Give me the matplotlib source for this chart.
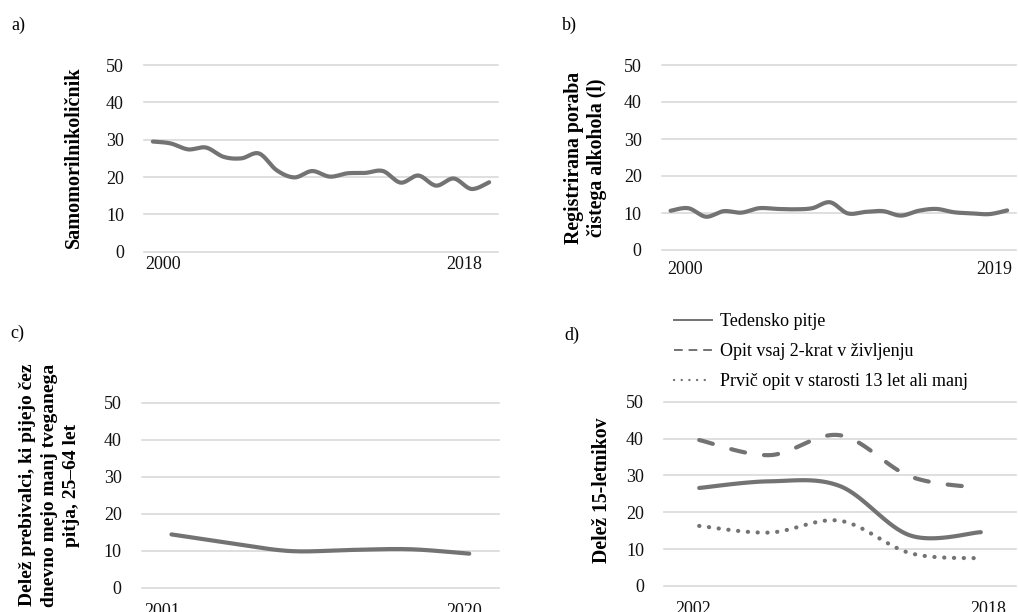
import numpy as np
import matplotlib
matplotlib.use('Agg')
import matplotlib.pyplot as plt
from matplotlib.lines import Line2D

plt.rcParams['font.family'] = ['Liberation Serif', 'DejaVu Serif']

# ---------------- data ----------------
years_a = list(range(2000, 2020))
suicide_rate = [29.5, 29.0, 27.4, 27.9, 25.4, 25.0, 26.3, 21.8, 19.9, 21.6,
                20.1, 21.0, 21.1, 21.6, 18.5, 20.4, 17.7, 19.6, 16.8, 18.6]

years_b = list(range(2000, 2020))
alcohol_litres = [10.6, 11.3, 9.0, 10.5, 10.1, 11.3, 11.1, 11.0, 11.3, 12.9,
                  9.9, 10.3, 10.5, 9.3, 10.6, 11.1, 10.2, 9.9, 9.7, 10.7]

years_c = [2001, 2004, 2008, 2012, 2016, 2020]
daily_over_limit = [14.4, 12.0, 9.9, 10.2, 10.4, 9.2]

years_d = [2002, 2006, 2010, 2014, 2018]
weekly_drinking = [26.6, 28.4, 27.1, 13.7, 14.6]
drunk_twice = [39.6, 35.5, 40.9, 29.7, 26.6]
first_drunk_13 = [16.3, 14.5, 17.7, 8.9, 7.5]

legend_labels = ['Tedensko pitje', 'Opit vsaj 2-krat v življenju',
                 'Prvič opit v starosti 13 let ali manj']

ylabel_a = 'Samomorilnikoličnik'
ylabel_b = 'Registrirana poraba\nčistega alkohola (l)'
ylabel_c = 'Delež prebivalci, ki pijejo čez\ndnevno mejo manj tveganega\npitja, 25–64 let'
ylabel_d = 'Delež 15-letnikov'

yticks = [0, 10, 20, 30, 40, 50]

# ---------------- style ----------------
W, H = 1018, 612
LINE = '#737373'
GRID = '#d9d9d9'


def smooth(x, y, n=30):
    """Excel-like smoothed line (Catmull-Rom Bezier) through the data points."""
    x = np.asarray(x, float)
    y = np.asarray(y, float)
    px = np.concatenate([[x[0]], x, [x[-1]]])
    py = np.concatenate([[y[0]], y, [y[-1]]])
    t = np.linspace(0, 1, n)[:, None]
    out = []
    for i in range(1, len(px) - 2):
        p0 = np.array([px[i - 1], py[i - 1]])
        p1 = np.array([px[i], py[i]])
        p2 = np.array([px[i + 1], py[i + 1]])
        p3 = np.array([px[i + 2], py[i + 2]])
        c1 = p1 + (p2 - p0) / 6.0
        c2 = p2 - (p3 - p1) / 6.0
        seg = ((1 - t) ** 3) * p1 + 3 * ((1 - t) ** 2) * t * c1 + 3 * (1 - t) * t ** 2 * c2 + t ** 3 * p2
        out.append(seg if i == 1 else seg[1:])
    pts = np.vstack(out)
    return pts[:, 0], pts[:, 1]


def add_axes(x0, x1, y0, y1):
    return fig.add_axes([x0 / W, 1 - y1 / H, (x1 - x0) / W, (y1 - y0) / H])


def setup(ax, n, tick_pos, tick_labels, xpad):
    ax.set_xlim(-0.5, n - 0.5)
    ax.set_ylim(0, 50)
    ax.set_yticks(yticks)
    ax.set_xticks(tick_pos)
    ax.set_xticklabels(tick_labels)
    ax.grid(axis='y', color=GRID, lw=1.2)
    ax.grid(axis='x', visible=False)
    ax.set_axisbelow(True)
    for gl in ax.get_ygridlines():
        gl.set_clip_on(False)
    for s in ax.spines.values():
        s.set_visible(False)
    ax.tick_params(axis='y', length=0, labelsize=13, pad=14.4, colors='#111111')
    ax.tick_params(axis='x', length=0, labelsize=13, pad=xpad, colors='#111111')


fig = plt.figure(figsize=(W / 100, H / 100), dpi=100)

# ---- panel a ----
axa = add_axes(144, 498, 65, 251.7)
ia = np.arange(len(years_a))
xs, ys = smooth(ia, suicide_rate)
axa.plot(xs, ys, color=LINE, lw=3.0, solid_capstyle='round')
setup(axa, len(years_a), [years_a.index(2000) + 0.58, years_a.index(2018) - 0.43],
      ['2000', '2018'], 3)

# ---- panel b ----
axb = add_axes(661.7, 1016, 65, 250)
ib = np.arange(len(years_b))
xs, ys = smooth(ib, alcohol_litres)
axb.plot(xs, ys, color=LINE, lw=3.0, solid_capstyle='round')
setup(axb, len(years_b), [years_b.index(2000) + 0.84, years_b.index(2019) - 0.7],
      ['2000', '2019'], 8)

# ---- panel c ----
axc = add_axes(141.7, 499, 402.7, 587.7)
ic = np.arange(len(years_c))
xs, ys = smooth(ic, daily_over_limit)
axc.plot(xs, ys, color=LINE, lw=3.0, solid_capstyle='round')
setup(axc, len(years_c), [years_c.index(2001) - 0.15, years_c.index(2020) - 0.08],
      ['2001', '2020'], 11)

# ---- panel d ----
axd = add_axes(664, 1016, 401.7, 586)
idd = np.arange(len(years_d))
xs, ys = smooth(idd, weekly_drinking)
axd.plot(xs, ys, color=LINE, lw=3.0, solid_capstyle='round')
xs, ys = smooth(idd, drunk_twice)
axd.plot(xs, ys, color=LINE, lw=3.0, dashes=(3.4, 4.6), dash_capstyle='round')
xs, ys = smooth(idd, first_drunk_13)
axd.plot(xs, ys, color=LINE, lw=3.0, dashes=(0.05, 2.3), dash_capstyle='round')
setup(axd, len(years_d), [years_d.index(2002) - 0.08, years_d.index(2018) + 0.1],
      ['2002', '2018'], 11)

handles = [
    Line2D([], [], color=LINE, lw=1.4),
    Line2D([], [], color=LINE, lw=1.4, dashes=(4.5, 3.0)),
    Line2D([], [], color=LINE, lw=1.7, dashes=(0.05, 3.2), dash_capstyle='round'),
]
fig.legend(handles, legend_labels, loc='upper left',
           bbox_to_anchor=(674 / W, 1 - 313 / H), frameon=False,
           fontsize=13, handlelength=2.1, handletextpad=0.45,
           labelspacing=0.72, borderpad=0, borderaxespad=0)

# ---- y labels ----
fig.text(74 / W, 1 - 157.5 / H, ylabel_a, rotation=90, ha='center', va='center',
         fontsize=14.5, fontweight='bold')
fig.text(585.3 / W, 1 - 157.5 / H, ylabel_b, rotation=90, ha='center', va='center',
         fontsize=14.2, fontweight='bold', multialignment='center', linespacing=1.2)
fig.text(49.5 / W, 1 - 485 / H, ylabel_c, rotation=90, ha='center', va='center',
         fontsize=14, fontweight='bold', multialignment='center', linespacing=1.38)
fig.text(601.7 / W, 1 - 490 / H, ylabel_d, rotation=90, ha='center', va='center',
         fontsize=14.2, fontweight='bold')

# ---- panel letters ----
for lbl, x, y in [('a)', 11, 30), ('b)', 562, 30), ('c)', 10, 338), ('d)', 564, 340)]:
    fig.text(x / W, 1 - y / H, lbl, ha='left', va='baseline', fontsize=13)

fig.savefig('out.png', dpi=100)
